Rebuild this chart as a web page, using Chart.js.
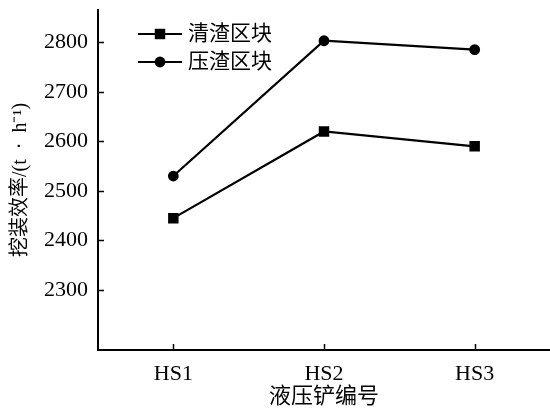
<!DOCTYPE html>
<html>
<head>
<meta charset="utf-8">
<script src="https://cdn.jsdelivr.net/npm/chart.js"></script>
<style>
  html, body { margin: 0; padding: 0; background: #fff; }
  #wrap { width: 550px; height: 412px; }
</style>
</head>
<body>
<div id="wrap"><canvas id="chart" width="550" height="412"></canvas></div>
<script>
const shovels = ['HS1', 'HS2', 'HS3'];
const clearBlock = [2445, 2620, 2590];
const pressBlock = [2530, 2803, 2785];
const yTicks = [2300, 2400, 2500, 2600, 2700, 2800];
const seriesNames = ['清渣区块', '压渣区块'];

const serif = '"Liberation Serif", "Noto Sans CJK SC", serif';

// tick marks pointing into the plot
const innerTicks = {
  id: 'innerTicks',
  afterDraw(chart) {
    const { ctx, scales: { x, y } } = chart;
    ctx.save();
    ctx.strokeStyle = '#000';
    ctx.lineWidth = 1.5;
    ctx.beginPath();
    y.ticks.forEach(t => {
      const py = Math.round(y.getPixelForValue(t.value)) + 0.5;
      ctx.moveTo(x.left, py);
      ctx.lineTo(x.left + 6, py);
    });
    shovels.forEach((_, i) => {
      const px = Math.round(x.getPixelForValue(i)) + 0.5;
      ctx.moveTo(px, y.bottom);
      ctx.lineTo(px, y.bottom - 6);
    });
    ctx.stroke();
    ctx.restore();
  }
};

// legend with line + marker, inside the plot top-left
const lineLegend = {
  id: 'lineLegend',
  afterDraw(chart) {
    const { ctx, chartArea } = chart;
    ctx.save();
    chart.data.datasets.forEach((ds, i) => {
      const yy = chartArea.top + 24 + i * 28;
      const x0 = chartArea.left + 40;
      ctx.strokeStyle = ds.borderColor;
      ctx.lineWidth = ds.borderWidth;
      ctx.beginPath();
      ctx.moveTo(x0, yy);
      ctx.lineTo(x0 + 44, yy);
      ctx.stroke();
      ctx.fillStyle = ds.pointBackgroundColor;
      ctx.beginPath();
      if (ds.pointStyle === 'rect') {
        const s = ds.pointRadius * Math.SQRT1_2;
        ctx.rect(x0 + 22 - s, yy - s, 2 * s, 2 * s);
      } else {
        ctx.arc(x0 + 22, yy, ds.pointRadius, 0, Math.PI * 2);
      }
      ctx.fill();
      ctx.fillStyle = '#000';
      ctx.font = '21px ' + serif;
      ctx.textBaseline = 'middle';
      ctx.fillText(ds.label, x0 + 50, yy);
    });
    ctx.restore();
  }
};

new Chart(document.getElementById('chart'), {
  type: 'line',
  data: {
    labels: shovels,
    datasets: [
      {
        label: seriesNames[0],
        data: clearBlock,
        borderColor: '#000',
        backgroundColor: '#000',
        pointBackgroundColor: '#000',
        borderWidth: 2.2,
        pointStyle: 'rect',
        pointRadius: 7.4,
        pointBorderWidth: 0,
        tension: 0
      },
      {
        label: seriesNames[1],
        data: pressBlock,
        borderColor: '#000',
        backgroundColor: '#000',
        pointBackgroundColor: '#000',
        borderWidth: 2.2,
        pointStyle: 'circle',
        pointRadius: 5.4,
        pointBorderWidth: 0,
        tension: 0
      }
    ]
  },
  options: {
    responsive: false,
    animation: false,
    devicePixelRatio: 1,
    layout: { autoPadding: false, padding: { top: 10, right: -4, left: 0, bottom: 0 } },
    plugins: {
      legend: { display: false },
      tooltip: { enabled: false }
    },
    scales: {
      x: {
        offset: true,
        afterFit: (scale) => {
          scale.height = 62;
          scale.paddingLeft = 0;
          scale.paddingRight = 0;
        },
        grid: { display: true, drawOnChartArea: false, drawTicks: false },
        border: { display: true, color: '#000', width: 2 },
        ticks: {
          color: '#000',
          padding: 11,
          font: { family: serif, size: 22 }
        },
        title: {
          display: true,
          text: '液压铲编号',
          color: '#000',
          font: { family: serif, size: 22 },
          padding: { top: 0, bottom: 2 }
        }
      },
      y: {
        min: 2179,
        max: 2865,
        afterBuildTicks: (scale) => { scale.ticks = yTicks.map(v => ({ value: v })); },
        afterFit: (scale) => {
          scale.width = 98;
          scale.paddingTop = 0;
          scale.paddingBottom = 0;
        },
        grid: { display: true, drawOnChartArea: false, drawTicks: false },
        border: { display: true, color: '#000', width: 2 },
        ticks: {
          color: '#000',
          padding: 10,
          font: { family: serif, size: 22 },
          callback: (v) => String(v)
        },
        title: {
          display: true,
          text: '挖装效率/(t  ·  h⁻¹)',
          color: '#000',
          font: { family: serif, size: 20 },
          padding: { top: 9, bottom: 0 }
        }
      }
    }
  },
  plugins: [innerTicks, lineLegend]
});
</script>
</body>
</html>
